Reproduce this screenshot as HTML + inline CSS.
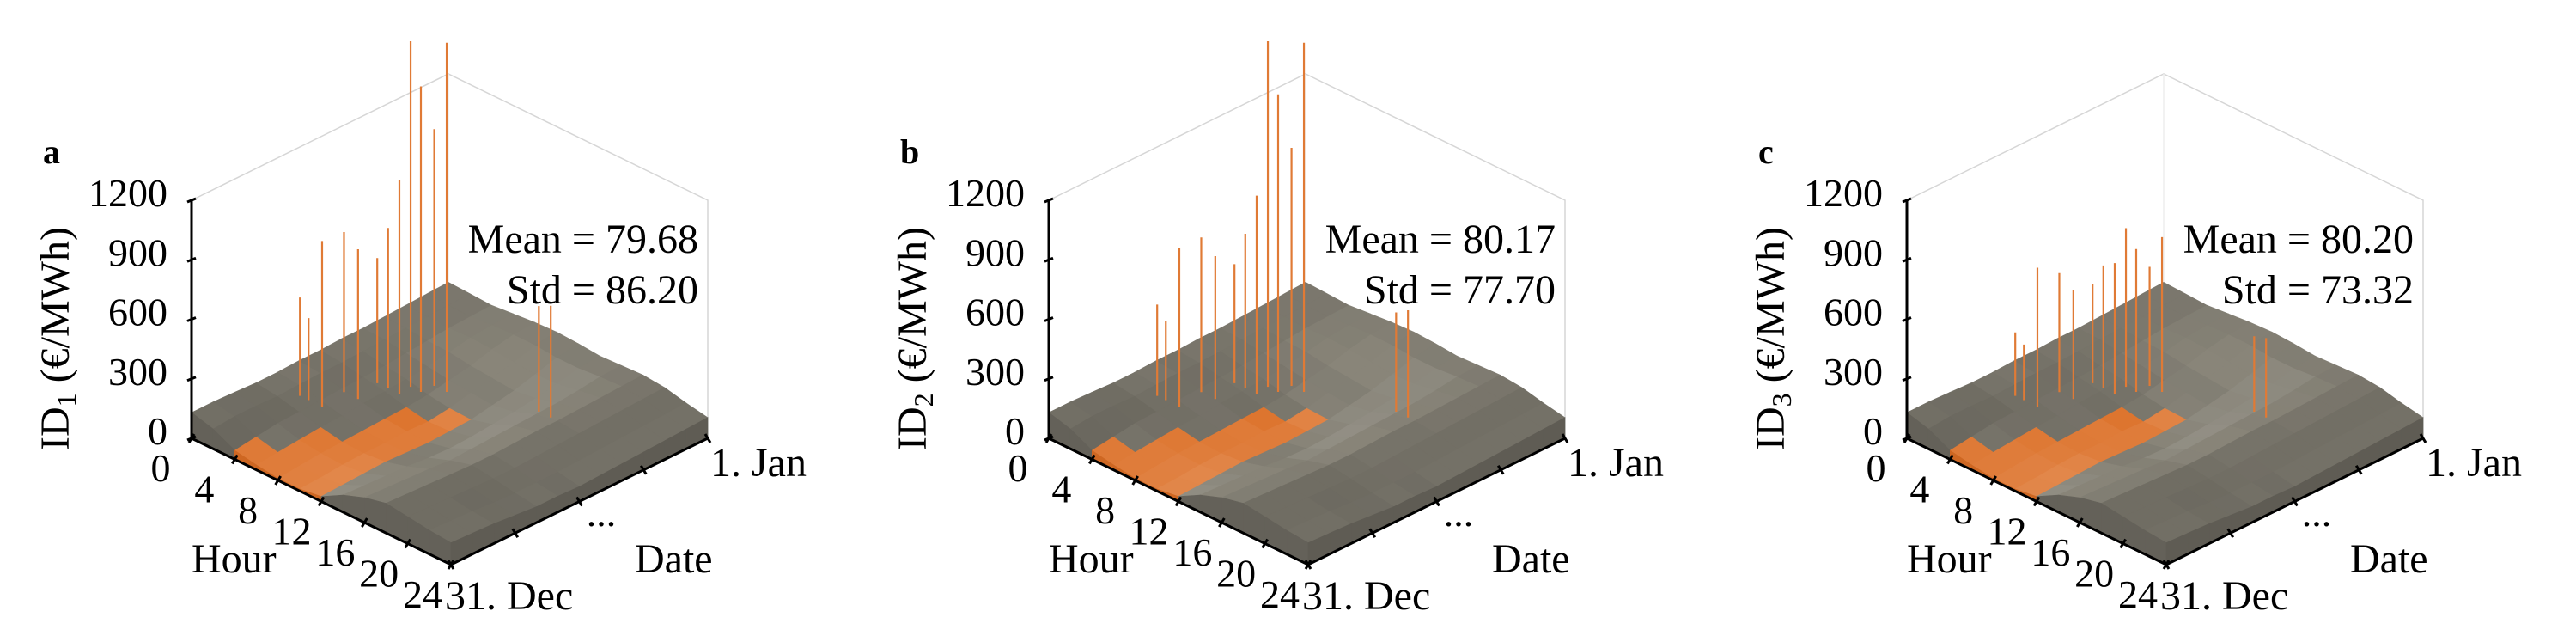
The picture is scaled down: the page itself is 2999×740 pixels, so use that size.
<!DOCTYPE html>
<html><head><meta charset="utf-8"><style>
html,body{margin:0;padding:0;background:#fff;}
svg{display:block;}
text{font-family:"Liberation Serif",serif;fill:#000;}
</style></head><body>
<svg id="chart" width="2999" height="740" viewBox="0 0 2999 740">
<defs><clipPath id="clipTop"><rect x="0" y="48" width="2999" height="700"/></clipPath></defs>
</svg>
<script>
// ---- data ----
const hourTicks = [0, 4, 8, 12, 16, 20, 24];
const zTicks = [0, 300, 600, 900, 1200];
const gridHours = [0,2,4,6,8,10,12,14,16,18,20,22,24];
const gridDates = [0,1,2,3,4,5,6,7,8,9,10,11,12]; // month index Jan..Dec end
const priceGrid = [
 [150,145,140,150,160,165,160,150,155,160,150,125,105],
 [145,140,135,145,150,150,140,140,150,155,145,120,100],
 [140,135,130,135,130,120,110,115,135,150,140,115,95],
 [135,130,120,115,100,90,80,95,125,145,135,110,90],
 [130,125,110,95,80,70,60,80,120,140,130,105,85],
 [130,120,100,85,60,45,40,70,115,140,125,100,80],
 [125,115,95,75,50,30,35,60,110,135,120,95,75],
 [125,115,90,70,45,35,30,55,105,130,115,95,80],
 [120,110,85,60,40,30,35,60,100,130,115,95,80],
 [120,105,80,55,35,30,40,70,110,135,120,100,90],
 [125,110,75,45,30,25,35,75,115,140,125,110,100],
 [130,110,60,35,20,15,30,80,120,145,130,115,105],
 [130,100,45,25,10,10,25,85,125,150,135,120,110]
];
const spikeHours = [2.9,3.7,4.95,4.6,5.9,5.3,6.3,7.35,7.2,8.15,8.2,9.35,15.5,16.6];
const spikeDates = [0.7,0.7,0.7,0.6,0.6,0.5,0.5,0.5,0.45,0.45,0.4,0.4,0.3,0.3];
const spikeValues1 = [596,513,935,907,855,731,909,1176,1850,1640,1394,1860,632,663];
const spikeValues2 = [560,500,900,880,820,700,880,1100,1850,1600,1300,1860,600,640];
const spikeValues3 = [420,380,800,700,650,600,720,760,900,820,700,880,480,500];
const panelSpikes = [spikeValues1, spikeValues2, spikeValues3];
const panelLetters = ['a','b','c'];
const panelSubs = ['1','2','3'];
const panelMeans = ['79.68','80.17','80.20'];
const panelStds = ['86.20','77.70','73.32'];
const panelOffsets = [0, 998, 1997];

const NS = 'http://www.w3.org/2000/svg';
const svg = document.getElementById('chart');
function mk(tag, attrs, parent){ const e=document.createElementNS(NS,tag); for(const k in attrs) e.setAttribute(k,attrs[k]); parent.appendChild(e); return e; }
function P(h,t,v){ return [522 + h/24*302 - t*299, 363 + h/24*147 + t*147 - v/1200*277]; }
function pts(a){ return a.map(p=>p[0].toFixed(1)+','+p[1].toFixed(1)).join(' '); }
function col(v,shade){
  if(v<45){ const l=Math.max(40,Math.min(65,55+shade)); return 'hsl(24,72%,'+l+'%)'; }
  const l=Math.max(28,Math.min(62,45+shade)); return 'hsl(45,6%,'+l+'%)';
}

panelOffsets.forEach((ox,pi)=>{
  const g = mk('g',{transform:'translate('+ox+',0)'},svg);
  
  
  const box = mk('g',{stroke:'#d6d6d6','stroke-width':1.5,fill:'none'},g);
  
  
  const b0=P(0,1,1200), b1=P(0,0,1200), b2=P(24,0,1200), b3=P(24,0,0);
  mk('polyline',{points:pts([b0,b1,b2,b3])},box);
  mk('line',{x1:b1[0],y1:b1[1],x2:P(0,0,0)[0],y2:P(0,0,0)[1],stroke:'#eee'},box);
  const surf = mk('g',{'stroke-width':0.6},g);
  
  
  const nT=gridDates.length, nH=gridHours.length;
  for(let i=0;i<nT-1;i++){
    for(let j=0;j<nH-1;j++){
      const t0=gridDates[i]/12, t1=gridDates[i+1]/12, h0=gridHours[j], h1=gridHours[j+1];
      const v00=priceGrid[i][j], v01=priceGrid[i][j+1], v10=priceGrid[i+1][j], v11=priceGrid[i+1][j+1];
      const avg=(v00+v01+v10+v11)/4;
      const shade=((v00+v01)-(v10+v11))*0.12 - ((v00+v10)-(v01+v11))*0.08;
      const c=col(avg,shade);
      const q=mk('polygon',{points:pts([P(h0,t0,v00),P(h1,t0,v01),P(h1,t1,v11),P(h0,t1,v10)]),fill:c,stroke:c},surf);
      
      
    }
  }
  for(let j=0;j<nH-1;j++){
    const h0=gridHours[j],h1=gridHours[j+1], v0=priceGrid[nT-1][j], v1=priceGrid[nT-1][j+1];
    const c=col((v0+v1)/2,-8);
    const s=mk('polygon',{points:pts([P(h0,1,v0),P(h1,1,v1),P(h1,1,0),P(h0,1,0)]),fill:c,stroke:c},surf);
    
    
  }
  for(let i=0;i<nT-1;i++){
    const t0=gridDates[i]/12,t1=gridDates[i+1]/12, v0=priceGrid[i][nH-1], v1=priceGrid[i+1][nH-1];
    const c=col((v0+v1)/2,-10);
    const s=mk('polygon',{points:pts([P(24,t0,v0),P(24,t1,v1),P(24,t1,0),P(24,t0,0)]),fill:c,stroke:c},surf);
    
    
  }
  const sp=mk('g',{'clip-path':'url(#clipTop)'},g);
  
  
  panelSpikes[pi].forEach((v,k)=>{
    const a=P(spikeHours[k],spikeDates[k],100), b=P(spikeHours[k],spikeDates[k],v);
    const l=mk('line',{x1:a[0],y1:a[1],x2:b[0],y2:b[1],stroke:'#e07a35','stroke-width':2.2},sp);
    
    
  });
  const ax=mk('g',{stroke:'#000','stroke-width':3,fill:'none'},g);
  
  
  const o=P(0,1,0), zt=P(0,1,1200), he=P(24,1,0), de=P(24,0,0);
  mk('line',{x1:o[0],y1:o[1],x2:zt[0],y2:zt[1]},ax);
  mk('line',{x1:o[0],y1:o[1],x2:he[0],y2:he[1]},ax);
  mk('line',{x1:he[0],y1:he[1],x2:de[0],y2:de[1]},ax);
  zTicks.forEach(z=>{ const p=P(0,1,z); mk('line',{x1:p[0]-5,y1:p[1]+2,x2:p[0]+5,y2:p[1]-2},ax);
    const t=mk('text',{x:195,y:p[1]+7,'text-anchor':'end','font-size':46,stroke:'none',fill:'#000'},g);
    t.textContent=z;   });
  hourTicks.forEach((h,k)=>{ const p=P(h,1,0); mk('line',{x1:p[0]-3,y1:p[1]+5,x2:p[0]+3,y2:p[1]-5},ax);
    const t=mk('text',{x:p[0]-36+k*0.5,y:p[1]+50,'text-anchor':'middle','font-size':46,stroke:'none',fill:'#000'},g);
    t.textContent=h;   });
  [0,0.25,0.5,0.75,1].forEach(t=>{ const p=P(24,t,0); mk('line',{x1:p[0]-3,y1:p[1]-5,x2:p[0]+3,y2:p[1]+5},ax); });
  const L=(txt,x,y,name,anchor,extra)=>{ const t=mk('text',Object.assign({x:x,y:y,'font-size':46,'text-anchor':anchor||'start'},extra||{}),g); t.textContent=txt;   return t; };
  L(panelLetters[pi],50,190,'panel-letter','start',{'font-weight':'bold','font-size':40});
  L('Hour',223,666,'hour-axis-title','start',{'font-size':48});
  L('31. Dec',518,709,'date-start-label','start',{'font-size':48});
  L('1. Jan',827,554,'date-end-label','start',{'font-size':48});
  L('...',700,612,'date-ellipsis','middle');
  L('Date',739,666,'date-axis-title','start',{'font-size':48});
  L('Mean = '+panelMeans[pi],813,294,'mean-annotation','end',{'font-size':48});
  L('Std = '+panelStds[pi],813,353,'std-annotation','end',{'font-size':48});
  const yl=mk('text',{x:0,y:0,'font-size':48,'text-anchor':'middle',transform:'translate(80,394) rotate(-90)'},g);
  
  
  const s1=mk('tspan',{},yl); s1.textContent='ID';
  const s2=mk('tspan',{'font-size':32,dy:8},yl); s2.textContent=panelSubs[pi];
  const s3=mk('tspan',{dy:-8},yl); s3.textContent=' (€/MWh)';
});
</script>
</body></html>
